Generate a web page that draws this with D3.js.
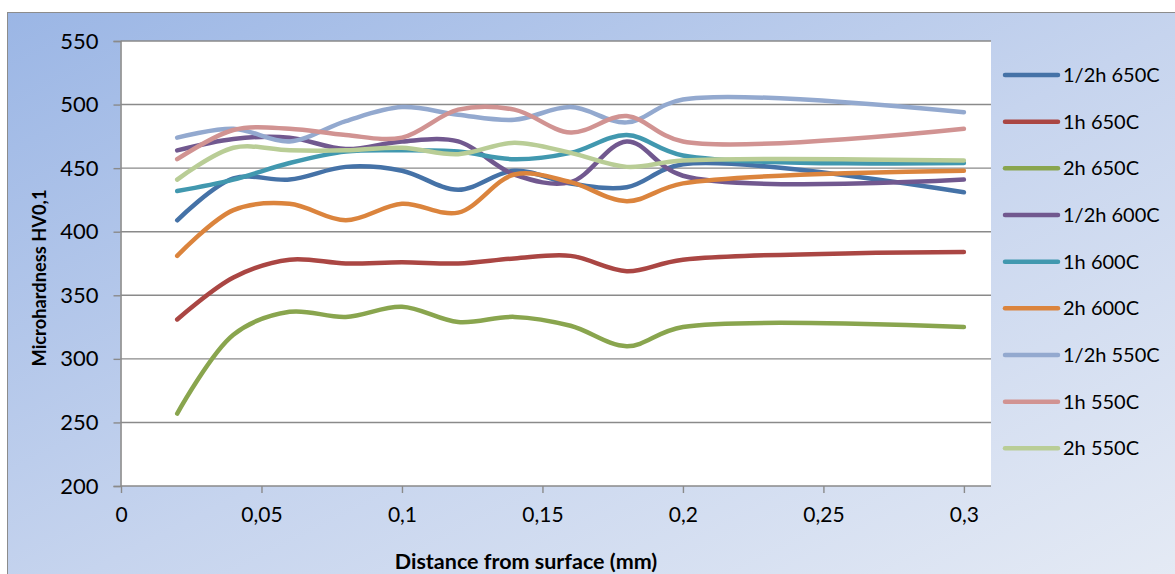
<!DOCTYPE html>
<html>
<head>
<meta charset="utf-8">
<script src="https://cdn.jsdelivr.net/npm/d3@7"></script>
<style>
  html, body { margin: 0; padding: 0; background: #ffffff; }
  svg { display: block; }
  text { font-family: Lato, "Open Sans", "Liberation Sans", sans-serif; fill: #000; }
</style>
</head>
<body>
<svg id="chart" width="1175" height="574"></svg>
<script>
// Distance from surface (mm) at which hardness was measured
const distances = [0.02, 0.04, 0.06, 0.08, 0.1, 0.12, 0.14, 0.16, 0.18, 0.2, 0.3];

// Microhardness HV0,1 per heat treatment
const half650 = [409, 442, 441, 451, 448, 433, 448, 438, 435, 453, 431];
const one650  = [331, 364, 378, 375, 376, 375, 379, 381, 369, 378, 384];
const two650  = [257, 319, 337, 333, 341, 329, 333, 326, 310, 325, 325];
const half600 = [464, 473, 474, 465, 471, 471, 445, 439, 471, 444, 441];
const one600  = [432, 441, 454, 463, 464, 463, 457, 462, 476, 460, 454];
const two600  = [381, 417, 422, 409, 422, 415, 445, 439, 424, 438, 448];
const half550 = [474, 481, 471, 487, 498, 492, 488, 498, 486, 504, 494];
const one550  = [457, 480, 481, 476, 474, 496, 496, 478, 491, 471, 481];
const two550  = [441, 466, 464, 464, 466, 461, 470, 462, 451, 456, 456];

const seriesNames = ["1/2h 650C", "1h 650C", "2h 650C", "1/2h 600C", "1h 600C",
                     "2h 600C", "1/2h 550C", "1h 550C", "2h 550C"];
const seriesValues = [half650, one650, two650, half600, one600, two600, half550, one550, two550];
const seriesColors = ["#4572A7", "#AA4643", "#89A54E", "#71588F", "#4198AF",
                      "#DB843D", "#93A9CF", "#D19392", "#B9CD96"];

const yTicks = [200, 250, 300, 350, 400, 450, 500, 550];
const xTicks = [0, 0.05, 0.1, 0.15, 0.2, 0.25, 0.3];
const xTickLabels = ["0", "0,05", "0,1", "0,15", "0,2", "0,25", "0,3"];

const svg = d3.select("#chart");

// background gradient of the chart area
const defs = svg.append("defs");
const grad = defs.append("linearGradient")
  .attr("id", "bg").attr("x1", "0").attr("y1", "0").attr("x2", "1").attr("y2", "1");
grad.append("stop").attr("offset", "0%").attr("stop-color", "#9BB6E5");
grad.append("stop").attr("offset", "50%").attr("stop-color", "#C6D4EE");
grad.append("stop").attr("offset", "100%").attr("stop-color", "#E7ECF5");

svg.append("rect")
  .attr("x", 7.5).attr("y", 12.5).attr("width", 1200).attr("height", 600)
  .attr("fill", "url(#bg)").attr("stroke", "#8C8C8C").attr("stroke-width", 1);

const plot = { left: 120.5, right: 991, top: 41, bottom: 486 };

svg.append("rect")
  .attr("x", plot.left).attr("y", plot.top)
  .attr("width", plot.right - plot.left).attr("height", plot.bottom - plot.top)
  .attr("fill", "#ffffff");

const x = d3.scaleLinear().domain([0, 0.31]).range([121, 992]);
const y = d3.scaleLinear().domain([200, 550]).range([plot.bottom, plot.top]);

// horizontal gridlines
svg.append("g")
  .selectAll("line")
  .data(yTicks.filter(d => d > 200))
  .join("line")
  .attr("x1", plot.left).attr("x2", plot.right)
  .attr("y1", d => y(d)).attr("y2", d => y(d))
  .attr("stroke", "#8A8A8A").attr("stroke-width", 1.4);

// y axis
const yAxis = svg.append("g")
  .attr("transform", `translate(${plot.left},0)`)
  .call(d3.axisLeft(y).tickValues(yTicks).tickSize(7).tickPadding(15));
yAxis.select(".domain").attr("stroke", "#8A8A8A").attr("stroke-width", 1.6);
yAxis.selectAll(".tick line").attr("stroke", "#8A8A8A").attr("stroke-width", 1.4);
yAxis.selectAll(".tick text")
  .attr("font-size", 22).attr("fill", "#000")
  .style("font-family", "Lato, 'Open Sans', sans-serif");

// x axis
const xAxis = svg.append("g")
  .attr("transform", `translate(0,${plot.bottom})`)
  .call(d3.axisBottom(x).tickValues(xTicks).tickFormat((d, i) => xTickLabels[i])
    .tickSize(7).tickSizeOuter(0).tickPadding(14));
xAxis.select(".domain").attr("stroke", "#8A8A8A").attr("stroke-width", 1.6)
  .attr("d", `M${plot.left},0H${plot.right}`);
xAxis.selectAll(".tick line").attr("stroke", "#8A8A8A").attr("stroke-width", 1.4);
xAxis.selectAll(".tick text")
  .attr("font-size", 21).attr("fill", "#000")
  .style("font-family", "Lato, 'Open Sans', sans-serif");

// smoothed series lines (centripetal Catmull-Rom copes with the uneven spacing)
const line = d3.line()
  .x((d, i) => x(distances[i]))
  .y(d => y(d))
  .curve(d3.curveCatmullRom.alpha(0.5));

svg.append("g")
  .selectAll("path")
  .data(seriesValues)
  .join("path")
  .attr("d", d => line(d))
  .attr("fill", "none")
  .attr("stroke", (d, i) => seriesColors[i])
  .attr("stroke-width", 4.5)
  .attr("stroke-linecap", "round")
  .attr("stroke-linejoin", "round");

// axis titles
svg.append("text")
  .attr("x", 526).attr("y", 569)
  .attr("text-anchor", "middle")
  .attr("font-size", 21.5).attr("font-weight", "bold")
  .text("Distance from surface (mm)");

svg.append("text")
  .attr("transform", "translate(46,278) rotate(-90)")
  .attr("text-anchor", "middle")
  .attr("font-size", 18).attr("font-weight", "bold")
  .attr("textLength", 177).attr("lengthAdjust", "spacingAndGlyphs")
  .text("Microhardness HV0,1");

// legend
const legend = svg.append("g");
const legendItems = legend.selectAll("g")
  .data(seriesNames)
  .join("g")
  .attr("transform", (d, i) => `translate(1005,${75 + i * 46.67})`);
legendItems.append("line")
  .attr("x1", 0).attr("x2", 53)
  .attr("y1", 0).attr("y2", 0)
  .attr("stroke", (d, i) => seriesColors[i])
  .attr("stroke-width", 4.5)
  .attr("stroke-linecap", "round");
legendItems.append("text")
  .attr("x", 58).attr("y", 0)
  .attr("dy", "0.35em")
  .attr("font-size", 20)
  .text(d => d);
</script>
</body>
</html>
